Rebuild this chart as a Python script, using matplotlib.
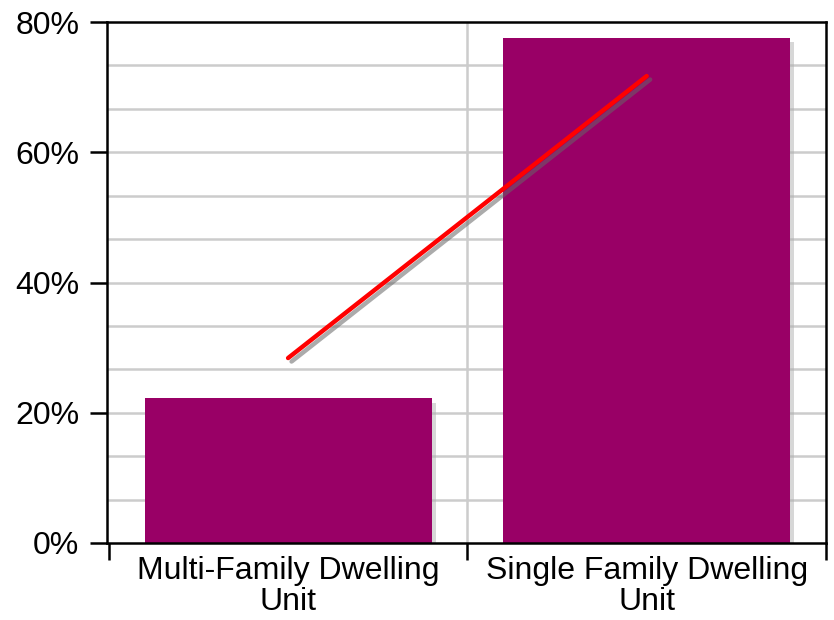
import matplotlib
matplotlib.use("Agg")
import matplotlib.pyplot as plt
import matplotlib.patheffects as pe
from matplotlib.ticker import FixedLocator, FuncFormatter

categories = ["Multi-Family Dwelling\nUnit", "Single Family Dwelling\nUnit"]
bar_values = [22.2, 77.6]
line_values = [28.4, 71.7]

plt.rcParams['font.family'] = ['Liberation Sans', 'DejaVu Sans']

fig = plt.figure(figsize=(8.34, 6.2), dpi=100)
ax = fig.add_axes([107/834, 1-543/620, (826-107)/834, (543-22)/620])

x = list(range(len(categories)))
ax.bar(x, bar_values, width=0.8, color="#990066", zorder=3,
       path_effects=[pe.SimplePatchShadow(offset=(3, -3), shadow_rgbFace="#b0b0b0", alpha=0.5), pe.Normal()])
ax.plot(x, line_values, color="#ff0000", linewidth=3.2, solid_capstyle="round", zorder=4,
        path_effects=[pe.SimpleLineShadow(offset=(2.5, -2.5), shadow_color="#666666", alpha=0.55), pe.Normal()])

ax.set_xlim(-0.505, len(categories) - 0.505)
ax.set_ylim(0, 80)

# gridlines
for v in [i * 80 / 12 for i in range(1, 12)]:
    ax.axhline(v, color="#cccccc", linewidth=1.8, zorder=1)
for b in [i + 0.5 for i in range(len(categories) - 1)]:
    ax.axvline(b, color="#cccccc", linewidth=1.8, zorder=1)

ax.yaxis.set_major_locator(FixedLocator([0, 20, 40, 60, 80]))
ax.yaxis.set_major_formatter(FuncFormatter(lambda v, p: f"{v:.0f}%"))
ax.set_xticks([i - 0.5 for i in range(len(categories) + 1)])
ax.set_xticklabels([])
ax.set_xticks(x, minor=True)
ax.set_xticklabels(categories, minor=True)
ax.tick_params(axis="x", which="minor", length=0, labelsize=23, pad=9)
ax.tick_params(axis="x", which="major", length=12, width=1.8, direction="out")
ax.tick_params(axis="y", length=12, width=1.8, labelsize=23, pad=8, direction="out")
for lbl in ax.get_xticklabels(minor=True):
    lbl.set_linespacing(1.08)

for s in ax.spines.values():
    s.set_linewidth(1.8)
    s.set_color("black")
    s.set_zorder(5)

fig.savefig("out.png", dpi=100)
